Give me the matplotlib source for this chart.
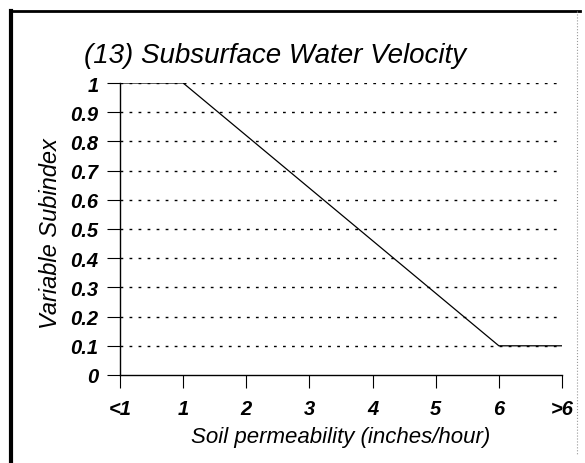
import matplotlib
matplotlib.use("Agg")
import matplotlib.pyplot as plt
from matplotlib.lines import Line2D

plt.rcParams['font.family'] = ['Liberation Sans', 'DejaVu Sans']

x_labels = ["<1", "1", "2", "3", "4", "5", "6", ">6"]
y_ticks = [0, 0.1, 0.2, 0.3, 0.4, 0.5, 0.6, 0.7, 0.8, 0.9, 1]
y_tick_labels = ["0", "0.1", "0.2", "0.3", "0.4", "0.5", "0.6", "0.7", "0.8", "0.9", "1"]
curve_x = [0, 1, 6, 7]
curve_y = [1.0, 1.0, 0.1, 0.1]

W, H = 585, 464
fig = plt.figure(figsize=(W/100, H/100), dpi=100)
ax = fig.add_axes([120/W, 1-376/H, (562-120)/W, (376-84)/H])

ax.plot(curve_x, curve_y, color='black', linewidth=0.9, zorder=3)

ax.set_xlim(0, 7)
ax.set_ylim(0, 1)
ax.set_xticks(range(len(x_labels)))
ax.set_xticklabels(x_labels, fontsize=14.5, fontweight='bold', fontstyle='italic')
ax.set_yticks(y_ticks)
ax.set_yticklabels(y_tick_labels, fontsize=14.5, fontweight='bold', fontstyle='italic')
ax.tick_params(axis='both', direction='out', length=9.5, width=0.8, color='black')
ax.tick_params(axis='x', pad=8)
ax.tick_params(axis='y', pad=6)

for y in y_ticks[1:]:
    ax.axhline(y, color='black', linestyle=(0, (2, 4.5)), linewidth=1.0, zorder=1)

ax.spines['top'].set_visible(False)
ax.spines['right'].set_visible(False)
ax.spines['left'].set_linewidth(1.0)
ax.spines['bottom'].set_linewidth(1.0)

ax.set_xlabel("Soil permeability (inches/hour)", fontsize=16, fontstyle='italic')
ax.xaxis.set_label_coords(0.5, (376-427)/292)
ax.set_ylabel("Variable Subindex", fontsize=17, fontstyle='italic')
ax.yaxis.set_label_coords((62-120)/442, (376-234)/292)

fig.text(275/W, 1-63/H, "(13) Subsurface Water Velocity", fontsize=20,
         fontstyle='italic', ha='center', va='baseline')

# figure border
fig.add_artist(Line2D([11/W, 11/W], [1-12/H, 0], transform=fig.transFigure, color='black', linewidth=3))
fig.add_artist(Line2D([11/W, 580/W], [1-12/H, 1-12/H], transform=fig.transFigure, color='black', linewidth=2))
fig.add_artist(Line2D([577/W, 577/W], [1-12/H, 0.02], transform=fig.transFigure, color='#999999', linewidth=0.8, linestyle=':'))

fig.savefig("out.png", dpi=100)
